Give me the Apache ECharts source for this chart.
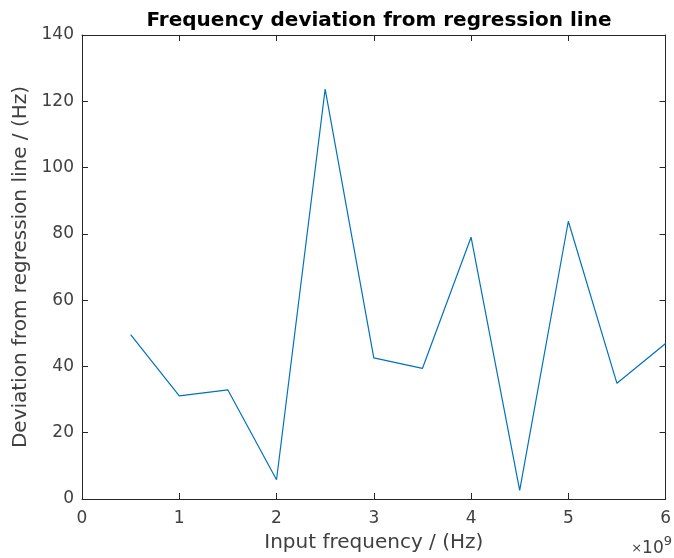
<!DOCTYPE html>
<html><head><meta charset="utf-8">
<script src="https://cdn.jsdelivr.net/npm/echarts@6/dist/echarts.min.js"></script>
<style>html,body{margin:0;padding:0;background:#fff}#c{width:674px;height:558px}</style>
</head><body><div id="c"></div>
<script>
const xValues = [0.5, 1, 1.5, 2, 2.5, 3, 3.5, 4, 4.5, 5, 5.5, 6]; // ×10^9 Hz
const deviation = [49.6, 31.1, 32.9, 5.8, 123.7, 42.6, 39.4, 79.0, 2.6, 83.8, 34.9, 46.9];
const titleText = 'Frequency deviation from regression line';
const xName = 'Input frequency / (Hz)';
const yName = 'Deviation from regression line / (Hz)';

const font = 'DejaVu Sans';
const axisCol = '#262626';
const labelCol = '#404040';
const chart = echarts.init(document.getElementById('c'));
const lineStyle = {color: axisCol, width: 1};
chart.setOption({
  animation: false,
  title: {text: titleText, left: 374, top: 6, textAlign: 'center',
    textStyle: {fontFamily: font, fontSize: 20, fontWeight: 'bold', color: '#000'}},
  grid: {left: 82, right: 7, top: 35, bottom: 59, containLabel: false},
  xAxis: [{
    type: 'value', min: 0, max: 6, interval: 1, position: 'bottom',
    name: xName, nameLocation: 'middle', nameGap: 34,
    nameTextStyle: {fontFamily: font, fontSize: 20, color: labelCol},
    axisLine: {onZero: false, lineStyle}, axisTick: {inside: true, length: 6, lineStyle},
    axisLabel: {fontFamily: font, fontSize: 17, color: labelCol, margin: 11},
    splitLine: {show: false}
  }, {
    type: 'value', min: 0, max: 6, interval: 1, position: 'top',
    axisLine: {show: true, onZero: false, lineStyle}, axisTick: {inside: true, length: 6, lineStyle},
    axisLabel: {show: false}, splitLine: {show: false}
  }],
  yAxis: [{
    type: 'value', min: 0, max: 140, interval: 20, position: 'left',
    name: yName, nameLocation: 'middle', nameGap: 48,
    nameTextStyle: {fontFamily: font, fontSize: 20, color: labelCol},
    axisLine: {show: true, onZero: false, lineStyle}, axisTick: {show: true, inside: true, length: 6, lineStyle},
    axisLabel: {fontFamily: font, fontSize: 17, color: labelCol, margin: 8},
    splitLine: {show: false}
  }, {
    type: 'value', min: 0, max: 140, interval: 20, position: 'right',
    axisLine: {show: true, onZero: false, lineStyle}, axisTick: {show: true, inside: true, length: 6, lineStyle},
    axisLabel: {show: false}, splitLine: {show: false}
  }],
  graphic: [{
    type: 'text', right: 2, top: 535,
    style: {
      text: '{a|×}{c|10}{b|9}',
      rich: {
        a: {fontFamily: font, fontSize: 13, fill: labelCol, padding: [7, 0, 0, 0]},
        c: {fontFamily: font, fontSize: 17, fill: labelCol, padding: [7, 0, 0, 0]},
        b: {fontFamily: font, fontSize: 13, fill: labelCol, padding: [0, 0, 7, 0]}
      }
    }
  }],
  series: [{
    type: 'line',
    data: xValues.map((x, i) => [x, deviation[i]]),
    showSymbol: false, symbol: 'none',
    lineStyle: {color: '#0072BD', width: 1.2},
    itemStyle: {color: '#0072BD'}
  }]
});
</script></body></html>
